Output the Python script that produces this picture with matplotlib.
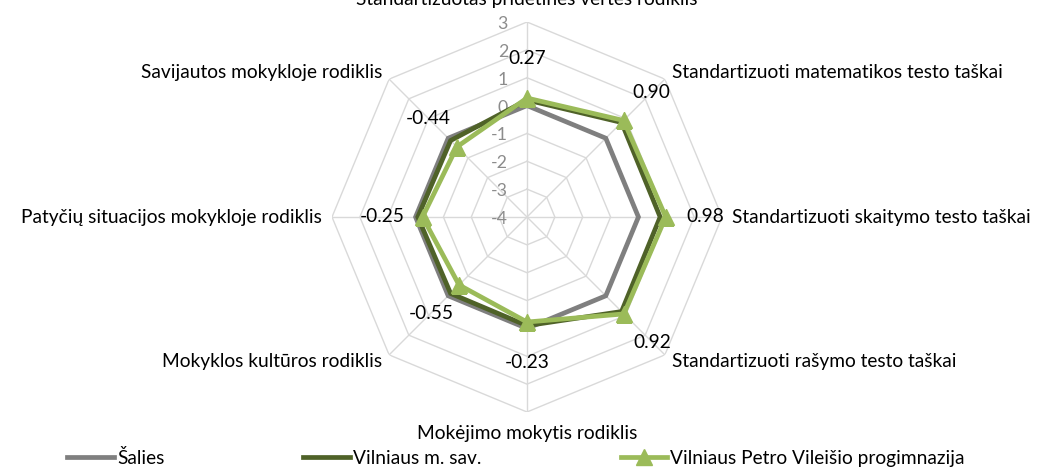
import numpy as np
import matplotlib
matplotlib.use("Agg")
import matplotlib.pyplot as plt

plt.rcParams['font.family'] = ['Lato', 'DejaVu Sans']

categories = [
    "Standartizuotas pridėtinės vertės rodiklis",
    "Standartizuoti matematikos testo taškai",
    "Standartizuoti skaitymo testo taškai",
    "Standartizuoti rašymo testo taškai",
    "Mokėjimo mokytis rodiklis",
    "Mokyklos kultūros rodiklis",
    "Patyčių situacijos mokykloje rodiklis",
    "Savijautos mokykloje rodiklis",
]
series_names = ["Šalies", "Vilniaus m. sav.", "Vilniaus Petro Vileišio progimnazija"]
salies = [0, 0, 0, 0, 0, 0, 0, 0]
vilniaus_sav = [0.2, 0.8, 0.78, 0.8, -0.1, -0.12, -0.08, -0.12]
mokykla = [0.27, 0.90, 0.98, 0.92, -0.23, -0.55, -0.25, -0.44]
ticks = [-4, -3, -2, -1, 0, 1, 2, 3]

colors = ["#7F7F7F", "#4F6228", "#9BBB59"]
grid_color = "#D9D9D9"
fs = 13.8

W, H = 1045, 468
fig = plt.figure(figsize=(W / 100, H / 100), dpi=100)
cx, cy, R = 527, 217, 195
ax = fig.add_axes([(cx - R) / W, (H - cy - R) / H, 2 * R / W, 2 * R / H], projection='polar')
ax.set_theta_zero_location('N')
ax.set_theta_direction(-1)
ax.set_ylim(ticks[0], ticks[-1])
ax.grid(False)
ax.spines['polar'].set_visible(False)
ax.set_xticks([])
ax.set_yticks([])
ax.patch.set_alpha(0)

n = len(categories)
theta = np.arange(n) * 2 * np.pi / n
theta_c = np.append(theta, theta[0])

# polygon grid rings
for t in ticks[1:]:
    ax.plot(theta_c, [t] * (n + 1), color=grid_color, lw=1.0, zorder=1)
# spokes
for th in theta:
    ax.plot([th, th], [ticks[0], ticks[-1]], color=grid_color, lw=1.0, zorder=1)

# radial tick labels
for t in ticks:
    ax.annotate(str(t), xy=(0, t), xytext=(-19, -2), textcoords='offset pixels',
                ha='right', va='center', color='#8C8C8C', fontsize=fs - 1)

# series
data = [salies, vilniaus_sav, mokykla]
lines = []
for i, (vals, name) in enumerate(zip(data, series_names)):
    v = np.append(vals, vals[0])
    kw = dict(color=colors[i], lw=3.4, label=name, zorder=3 + i, solid_joinstyle='miter')
    if i == 2:
        kw.update(marker='^', markersize=11, markevery=list(range(n)))
    ln, = ax.plot(theta_c, v, **kw)
    lines.append(ln)

# data labels of school series
for th, v in zip(theta, mokykla):
    dx = 40 * np.sin(th)
    dy = 40 * np.cos(th)
    ax.annotate(f"{v:.2f}", xy=(th, v), xytext=(dx, dy), textcoords='offset pixels',
                ha='center', va='center', fontsize=fs, color='black', zorder=10)

# category labels
for th, lab in zip(theta, categories):
    s, c = np.sin(th), np.cos(th)
    if abs(s) < 0.1:
        ha = 'center'
        off = 22
    else:
        ha = 'left' if s > 0 else 'right'
        off = 10
    ax.annotate(lab, xy=(th, ticks[-1]), xytext=(off * s, off * c), textcoords='offset pixels',
                ha=ha, va='center', fontsize=fs, color='black', annotation_clip=False)

leg = fig.legend(handles=lines, labels=series_names, loc='center', ncol=3,
                 bbox_to_anchor=(516 / W, 1 - 458 / H), frameon=False, fontsize=fs,
                 handlelength=2.45, handletextpad=0.15, columnspacing=7.25, borderpad=0)

fig.savefig("out.png", dpi=100)
